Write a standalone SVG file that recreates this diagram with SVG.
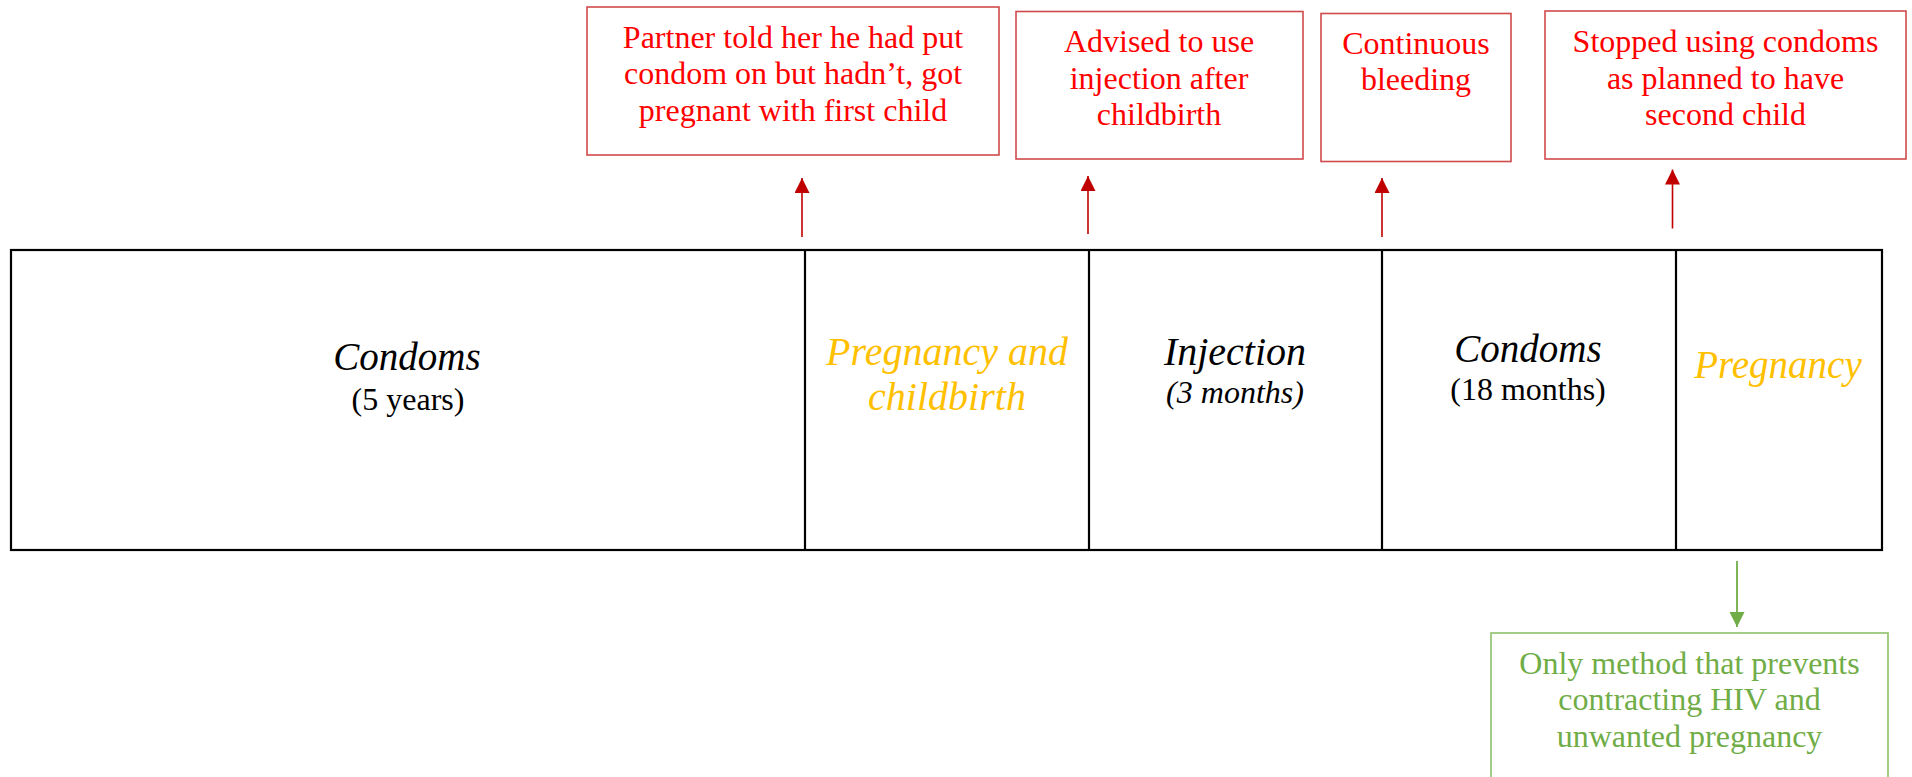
<svg xmlns="http://www.w3.org/2000/svg" width="1912" height="777" viewBox="0 0 1912 777">
  <style>
    text { font-family: "Liberation Serif", "Times New Roman", serif; text-anchor: middle; }
    .note { fill: #FF0000; font-size: 32px; }
    .noteBox { fill: #FFFFFF; stroke: #D04A4C; stroke-width: 1.6; }
    .green { fill: #70AD47; font-size: 32px; }
    .greenBox { fill: #FFFFFF; stroke: #8CC06A; stroke-width: 1.6; }
    .seg { fill: #FFFFFF; stroke: #000000; stroke-width: 2.2; }
    .divider { stroke: #000000; stroke-width: 2.2; }
    .main { font-style: italic; fill: #000000; }
    .sub { font-size: 32px; fill: #000000; }
    .preg { font-style: italic; fill: #FFC000; }
    .redArrow { stroke: #C00000; stroke-width: 1.6; fill: none; }
    .greenArrow { stroke: #70AD47; stroke-width: 1.8; fill: none; }
  </style>
  <defs>
    <marker id="headRed" viewBox="0 0 10 10" refX="10" refY="5" markerUnits="userSpaceOnUse" markerWidth="15" markerHeight="15" orient="auto">
      <path d="M0,0 L10,5 L0,10 Z" fill="#C00000"/>
    </marker>
    <marker id="headGreen" viewBox="0 0 10 10" refX="10" refY="5" markerUnits="userSpaceOnUse" markerWidth="15" markerHeight="16" orient="auto">
      <path d="M0,0 L10,5 L0,10 Z" fill="#70AD47"/>
    </marker>
  </defs>

  <!-- timeline bar -->
  <g id="timeline">
    <rect class="seg" x="11" y="250" width="1871" height="300"/>
    <line class="divider" x1="805" y1="250" x2="805" y2="550"/>
    <line class="divider" x1="1089" y1="250" x2="1089" y2="550"/>
    <line class="divider" x1="1382" y1="250" x2="1382" y2="550"/>
    <line class="divider" x1="1676" y1="250" x2="1676" y2="550"/>
  </g>

  <g id="seg-condoms-5y">
    <text class="main" x="407" y="370" font-size="39">Condoms</text>
    <text class="sub" x="408" y="410">(5 years)</text>
  </g>
  <g id="seg-pregnancy-childbirth">
    <text class="preg" x="947" y="364.5" font-size="40">Pregnancy and</text>
    <text class="preg" x="947" y="410" font-size="40">childbirth</text>
  </g>
  <g id="seg-injection">
    <text class="main" x="1235" y="364.5" font-size="40">Injection</text>
    <text class="main" x="1235" y="403" font-size="32">(3 months)</text>
  </g>
  <g id="seg-condoms-18m">
    <text class="main" x="1528" y="362" font-size="39">Condoms</text>
    <text class="sub" x="1528" y="400">(18 months)</text>
  </g>
  <g id="seg-pregnancy">
    <text class="preg" x="1778" y="378" font-size="39">Pregnancy</text>
  </g>

  <!-- event notes above the timeline -->
  <g id="note-partner">
    <rect class="noteBox" x="587" y="7" width="412" height="148"/>
    <text class="note" x="793" y="47.5">Partner told her he had put</text>
    <text class="note" x="793" y="84">condom on but hadn’t, got</text>
    <text class="note" x="793" y="120.5">pregnant with first child</text>
  </g>
  <g id="note-advised">
    <rect class="noteBox" x="1016" y="11.5" width="287" height="147.5"/>
    <text class="note" x="1159" y="52">Advised to use</text>
    <text class="note" x="1159" y="88.5">injection after</text>
    <text class="note" x="1159" y="125">childbirth</text>
  </g>
  <g id="note-bleeding">
    <rect class="noteBox" x="1321" y="13.5" width="190" height="148"/>
    <text class="note" x="1416" y="53.5">Continuous</text>
    <text class="note" x="1416" y="90">bleeding</text>
  </g>
  <g id="note-stopped">
    <rect class="noteBox" x="1545" y="11" width="361" height="148"/>
    <text class="note" x="1725.5" y="52">Stopped using condoms</text>
    <text class="note" x="1725.5" y="88.5">as planned to have</text>
    <text class="note" x="1725.5" y="125">second child</text>
  </g>

  <!-- note below the timeline -->
  <g id="note-hiv">
    <rect class="greenBox" x="1491" y="633" width="397" height="160"/>
    <text class="green" x="1689.5" y="673.5">Only method that prevents</text>
    <text class="green" x="1689.5" y="710">contracting HIV and</text>
    <text class="green" x="1689.5" y="746.5">unwanted pregnancy</text>
  </g>

  <g id="connectors">
    <line class="redArrow" x1="802" y1="237" x2="802" y2="178" marker-end="url(#headRed)"/>
    <line class="redArrow" x1="1088" y1="234" x2="1088" y2="176" marker-end="url(#headRed)"/>
    <line class="redArrow" x1="1382" y1="237" x2="1382" y2="178" marker-end="url(#headRed)"/>
    <line class="redArrow" x1="1672.5" y1="228.5" x2="1672.5" y2="169.5" marker-end="url(#headRed)"/>
    <line class="greenArrow" x1="1737" y1="561" x2="1737" y2="627" marker-end="url(#headGreen)"/>
  </g>
</svg>
